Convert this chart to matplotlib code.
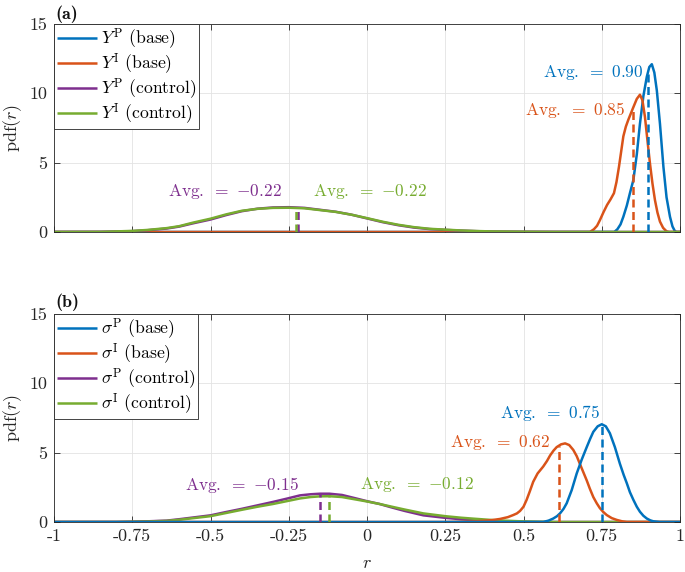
import numpy as np
import matplotlib
matplotlib.use("Agg")
import matplotlib.pyplot as plt

plt.rcParams['font.family'] = ['cmr10', 'DejaVu Serif']
plt.rcParams['mathtext.fontset'] = 'cm'
plt.rcParams['axes.unicode_minus'] = False
plt.rcParams['axes.formatter.use_mathtext'] = True

BLUE = '#0072BD'
ORANGE = '#D95319'
PURPLE = '#7E2F8E'
GREEN = '#77AC30'

# ---------------- panel (a) data ----------------
a_p_base_x = [-1.0, 0.79, 0.80, 0.81, 0.819, 0.83, 0.84, 0.851, 0.862, 0.872, 0.883, 0.894, 0.902,
              0.910, 0.918, 0.926, 0.936, 0.947, 0.957, 0.968, 0.976, 0.984, 0.99, 1.0]
a_p_base_y = [0.0, 0.0, 0.2, 0.55, 1.1, 1.9, 2.8, 3.75, 5.6, 7.8, 9.8, 11.2, 11.9,
              12.1, 11.5, 10.2, 7.8, 4.7, 2.5, 1.1, 0.4, 0.05, 0.0, 0.0]

a_i_base_x = [-1.0, 0.712, 0.725, 0.735, 0.744, 0.756, 0.767, 0.778, 0.789, 0.797, 0.805, 0.812,
              0.819, 0.827, 0.835, 0.843, 0.851, 0.862, 0.872, 0.880, 0.888, 0.896, 0.904, 0.912,
              0.920, 0.928, 0.936, 0.946, 0.957, 0.965, 1.0]
a_i_base_y = [0.0, 0.0, 0.2, 0.45, 0.85, 1.45, 1.95, 2.35, 2.8, 3.6, 4.7, 5.8,
              6.9, 7.6, 8.1, 8.55, 9.0, 9.6, 9.9, 9.5, 8.3, 6.6, 4.95, 3.5,
              2.3, 1.4, 0.75, 0.3, 0.05, 0.0, 0.0]

ctrl_a_x = [-1.0, -0.85, -0.75, -0.7, -0.64, -0.6, -0.555, -0.5, -0.45, -0.4, -0.35, -0.3, -0.25,
            -0.2, -0.15, -0.1, -0.05, 0.0, 0.05, 0.1, 0.15, 0.2, 0.25, 0.3, 0.35, 0.4, 0.5, 0.6, 1.0]
a_p_ctrl_y = [0.0, 0.005, 0.06, 0.13, 0.25, 0.39, 0.63, 0.9, 1.22, 1.5, 1.68, 1.77, 1.79,
              1.74, 1.6, 1.46, 1.25, 0.98, 0.71, 0.49, 0.32, 0.21, 0.15, 0.1, 0.06, 0.03, 0.01, 0.0, 0.0]
a_i_ctrl_y = [0.0, 0.006, 0.08, 0.15, 0.28, 0.42, 0.68, 0.96, 1.27, 1.53, 1.67, 1.74, 1.75,
              1.71, 1.58, 1.45, 1.25, 1.0, 0.74, 0.52, 0.35, 0.23, 0.17, 0.11, 0.07, 0.04, 0.015, 0.0, 0.0]

a_avgs = ['0.90', '0.85', '{-}0.22', '{-}0.22']
a_avg_pos = [0.898, 0.85, -0.22, -0.228]
a_labels = [r'$Y^{\mathrm{P}}$ (base)', r'$Y^{\mathrm{I}}$ (base)',
            r'$Y^{\mathrm{P}}$ (control)', r'$Y^{\mathrm{I}}$ (control)']

# ---------------- panel (b) data ----------------
b_p_base_x = [-1.0, 0.563, 0.58, 0.595, 0.607, 0.617, 0.628, 0.638, 0.654, 0.67, 0.686, 0.702, 0.713,
              0.723, 0.737, 0.75, 0.763, 0.776, 0.792, 0.808, 0.82, 0.83, 0.84, 0.851, 0.862, 0.872,
              0.883, 0.894, 0.905, 0.915, 0.935, 1.0]
b_p_base_y = [0.0, 0.0, 0.1, 0.25, 0.42, 0.63, 0.95, 1.35, 2.3, 3.5, 4.5, 5.4, 6.0,
              6.5, 6.9, 7.05, 6.9, 6.4, 5.4, 4.2, 3.4, 2.8, 2.15, 1.6, 1.1, 0.74,
              0.45, 0.25, 0.12, 0.05, 0.0, 0.0]

b_i_base_x = [-1.0, 0.25, 0.3, 0.35, 0.4, 0.425, 0.45, 0.467, 0.479, 0.489, 0.5, 0.51, 0.52, 0.531,
              0.545, 0.563, 0.575, 0.585, 0.596, 0.606, 0.62, 0.633, 0.646, 0.659, 0.67, 0.68,
              0.691, 0.702, 0.712, 0.723, 0.734, 0.744, 0.755, 0.766, 0.782, 0.798, 0.815, 0.83, 1.0]
b_i_base_y = [0.0, 0.0, 0.02, 0.05, 0.14, 0.22, 0.35, 0.5, 0.62, 0.8, 1.1, 1.6, 2.2, 2.9,
              3.5, 4.0, 4.4, 4.8, 5.15, 5.4, 5.6, 5.67, 5.55, 5.2, 4.75, 4.2,
              3.6, 3.0, 2.4, 1.8, 1.35, 1.0, 0.72, 0.5, 0.28, 0.15, 0.05, 0.0, 0.0]

ctrl_b_x = [-1.0, -0.8, -0.75, -0.7, -0.64, -0.6, -0.5, -0.45, -0.4, -0.35, -0.3, -0.257, -0.214,
            -0.18, -0.15, -0.12, -0.08, -0.035, 0.0, 0.04, 0.074, 0.12, 0.18, 0.25, 0.3, 0.34, 0.414,
            0.5, 0.6, 1.0]
b_p_ctrl_y = [0.0, 0.0, 0.02, 0.05, 0.1, 0.2, 0.48, 0.72, 0.95, 1.2, 1.45, 1.68, 1.92,
              2.0, 2.04, 2.04, 1.95, 1.7, 1.5, 1.3, 1.08, 0.8, 0.48, 0.3, 0.2, 0.13, 0.05,
              0.02, 0.0, 0.0]
b_i_ctrl_y = [0.0, 0.0, 0.02, 0.04, 0.08, 0.16, 0.42, 0.65, 0.88, 1.1, 1.3, 1.5, 1.7,
              1.8, 1.85, 1.86, 1.8, 1.62, 1.48, 1.3, 1.13, 0.9, 0.62, 0.42, 0.31, 0.24, 0.12,
              0.04, 0.0, 0.0]

b_avgs = ['0.75', '0.62', '{-}0.15', '{-}0.12']
b_avg_pos = [0.75, 0.613, -0.15, -0.12]
b_labels = [r'$\sigma^{\mathrm{P}}$ (base)', r'$\sigma^{\mathrm{I}}$ (base)',
            r'$\sigma^{\mathrm{P}}$ (control)', r'$\sigma^{\mathrm{I}}$ (control)']

xticks = [-1, -0.75, -0.5, -0.25, 0, 0.25, 0.5, 0.75, 1]
xticklabels = ['-1', '-0.75', '-0.5', '-0.25', '0', '0.25', '0.5', '0.75', '1']
yticks = [0, 5, 10, 15]

colors = [BLUE, ORANGE, PURPLE, GREEN]

fig = plt.figure(figsize=(6.85, 5.72), dpi=100)
W, H = 685.0, 572.0
ax1 = fig.add_axes([54 / W, 1 - 232 / H, 626 / W, 208 / H])
ax2 = fig.add_axes([54 / W, 1 - 522 / H, 626 / W, 208 / H])

FS = 13
LW = 1.8
DASH = (0, (3.2, 1.8))
SPINE = '#262626'


def style(ax, show_xlabels):
    ax.set_xlim(-1, 1)
    ax.set_ylim(0, 15)
    ax.set_xticks(xticks)
    ax.set_yticks(yticks)
    if show_xlabels:
        ax.set_xticklabels(xticklabels, fontsize=FS, color=SPINE)
    else:
        ax.set_xticklabels([])
    ax.set_yticklabels([str(v) for v in yticks], fontsize=FS, color=SPINE)
    ax.tick_params(direction='in', length=4, width=0.6, color=SPINE, top=True, right=True, pad=5)
    ax.grid(True, color='#e3e3e3', linewidth=0.6)
    ax.set_axisbelow(True)
    for s in ax.spines.values():
        s.set_color(SPINE)
        s.set_linewidth(0.6)
    ax.set_ylabel(r'$\mathrm{pdf}(r)$', fontsize=FS, color=SPINE, labelpad=4)


def draw(ax, xs, ys, labels, avgs, avg_pos, texts, order):
    handles = [None] * 4
    for i in order:
        h, = ax.plot(xs[i], ys[i], color=colors[i], lw=LW, label=labels[i],
                     solid_capstyle='butt', solid_joinstyle='round')
        handles[i] = h
    for x, y, c, p in zip(xs, ys, colors, avg_pos):
        top = np.interp(p, x, y)
        ax.plot([p, p], [0, top], color=c, lw=LW, linestyle=DASH)
    for (tx, ty, ha), c, a in zip(texts, colors, avgs):
        ax.text(tx, ty, r'$\mathrm{Avg.}\ =\ %s$' % a, color=c,
                fontsize=FS - 0.5, ha=ha, va='center')
    leg = ax.legend(handles=handles, loc='upper left', fontsize=FS - 0.3, frameon=True,
                    fancybox=False, borderaxespad=0, handlelength=2.3, handletextpad=0.2,
                    labelspacing=0.0, borderpad=0.15, framealpha=1)
    leg.get_frame().set_edgecolor(SPINE)
    leg.get_frame().set_linewidth(0.6)


style(ax1, False)
style(ax2, True)

draw(ax1, [a_p_base_x, a_i_base_x, ctrl_a_x, ctrl_a_x],
     [a_p_base_y, a_i_base_y, a_p_ctrl_y, a_i_ctrl_y],
     a_labels, a_avgs, a_avg_pos,
     [(0.882, 11.5, 'right'), (0.826, 8.8, 'right'), (-0.455, 2.9, 'center'), (0.01, 2.9, 'center')],
     order=[0, 1, 2, 3])
draw(ax2, [b_p_base_x, b_i_base_x, ctrl_b_x, ctrl_b_x],
     [b_p_base_y, b_i_base_y, b_p_ctrl_y, b_i_ctrl_y],
     b_labels, b_avgs, b_avg_pos,
     [(0.585, 7.85, 'center'), (0.425, 5.75, 'center'), (-0.40, 2.7, 'center'), (0.16, 2.7, 'center')],
     order=[2, 3, 1, 0])

ax2.set_xlabel(r'$r$', fontsize=FS, color=SPINE, labelpad=8)

fig.text(55 / W, 1 - 14 / H, '(a)', fontsize=FS, fontfamily='cmb10', fontweight='bold',
         ha='left', va='center', color='#111111')
fig.text(55 / W, 1 - 302 / H, '(b)', fontsize=FS, fontfamily='cmb10', fontweight='bold',
         ha='left', va='center', color='#111111')

fig.savefig('out.png', dpi=100)
